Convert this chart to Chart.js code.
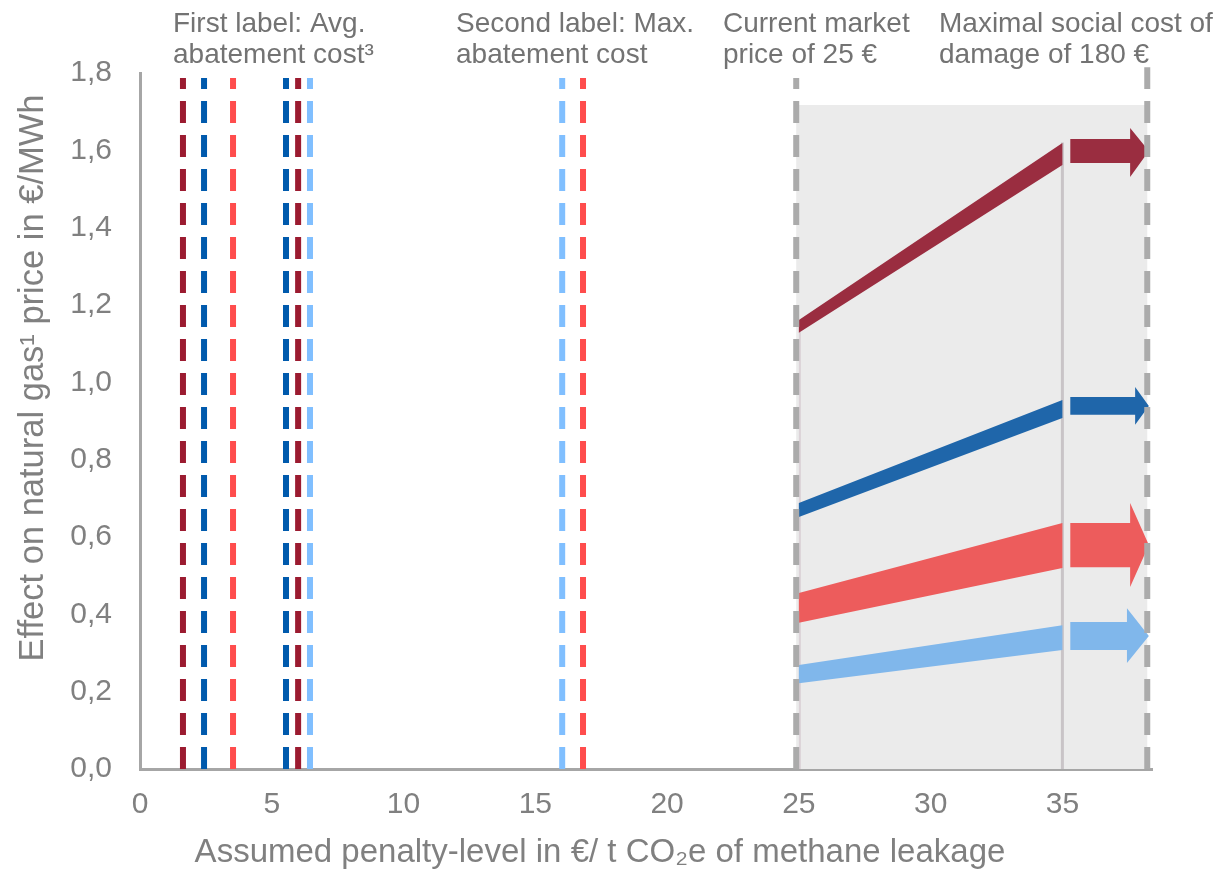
<!DOCTYPE html>
<html>
<head>
<meta charset="utf-8">
<script src="https://cdn.jsdelivr.net/npm/chart.js@4"></script>
<style>
  html, body { margin: 0; padding: 0; background: #fff; }
  #wrap { width: 1216px; height: 872px; }
</style>
</head>
<body>
<div id="wrap"><canvas id="chart" width="1216" height="872"></canvas></div>
<script>
// axis ticks
const xTickValues = [0, 5, 10, 15, 20, 25, 30, 35];
const yTickValues = [0, 0.2, 0.4, 0.6, 0.8, 1.0, 1.2, 1.4, 1.6, 1.8];
const yTickLabels = ["0,0", "0,2", "0,4", "0,6", "0,8", "1,0", "1,2", "1,4", "1,6", "1,8"];

// four series: dark red, blue, red, light blue
const seriesColors = ["#9b1b30", "#005aad", "#ff4d4d", "#80bfff"];
const bandColors = ["#9a2d40", "#1f66aa", "#ed5c5c", "#80b7eb"];

// abatement cost markers (penalty level, series)
const costLineX = [1.63, 2.43, 3.53, 5.54, 6.0, 6.45, 16.02, 16.81];
const costLineSeries = [0, 1, 2, 1, 0, 3, 3, 2];
const costLineTop = 1.787;

// market price / social cost range
const rangeStart = 24.9;
const rangeEnd = 38.22;
const rangeTop = 1.717;

// effect bands between 25 and 35 €
const bandX = [25, 35];
const bandLow = [[1.128, 1.562], [0.652, 0.908], [0.378, 0.520], [0.222, 0.308]];
const bandHigh = [[1.161, 1.619], [0.688, 0.954], [0.455, 0.636], [0.269, 0.372]];

// arrows beyond 35 €
const arrowStartX = 35.3;
const arrowTipX = 38.28;
const arrowHeadStart = [37.57, 37.76, 37.57, 37.45];
const arrowBodyLow = [1.567, 0.916, 0.522, 0.308];
const arrowBodyHigh = [1.629, 0.962, 0.636, 0.380];
const arrowHeadLow = [1.531, 0.890, 0.471, 0.274];
const arrowHeadHigh = [1.658, 0.988, 0.688, 0.416];

const headerTexts = [
  ["First label: Avg.", "abatement cost³"],
  ["Second label: Max.", "abatement cost"],
  ["Current market", "price of 25 €"],
  ["Maximal social cost of", "damage of 180 €"],
];
const xTitle = "Assumed penalty-level in €/ t CO₂e of methane leakage";
const yTitle = "Effect on natural gas¹ price in €/MWh";

const textGray = "#808080";
const axisGray = "#a6a6a6";
const fontFamily = "'Liberation Sans', Arial, sans-serif";

Chart.defaults.font.family = fontFamily;

function vline(x, top, color, width, dash, order, extra) {
  return Object.assign({
    data: [{ x, y: 0 }, { x, y: top }],
    borderColor: color,
    borderWidth: width,
    borderDash: dash,
    borderCapStyle: "butt",
    pointRadius: 0,
    fill: false,
    order,
  }, extra || {});
}

function polygon(points, color, order) {
  return {
    data: points.concat([points[0]]),
    borderWidth: 0,
    borderColor: "transparent",
    backgroundColor: color,
    pointRadius: 0,
    fill: "shape",
    order,
  };
}

const datasets = [];

// grey range background
datasets.push(polygon([
  { x: rangeStart, y: 0 }, { x: rangeEnd, y: 0 },
  { x: rangeEnd, y: rangeTop }, { x: rangeStart, y: rangeTop },
], "#ebebeb", 20));

// thin guides at 25 and 35
datasets.push(vline(35, 1.62, "#c9c4c7", 3, [], 15));
datasets.push(vline(25.04, 1.13, "#dcd3d8", 2, [], 15));

for (let i = 0; i < 4; i++) {
  datasets.push(polygon([
    { x: bandX[0], y: bandLow[i][0] }, { x: bandX[1], y: bandLow[i][1] },
    { x: bandX[1], y: bandHigh[i][1] }, { x: bandX[0], y: bandHigh[i][0] },
  ], bandColors[i], 10));

  const tipY = (arrowBodyLow[i] + arrowBodyHigh[i]) / 2;
  const hx = arrowHeadStart[i];
  datasets.push(polygon([
    { x: arrowStartX, y: arrowBodyLow[i] }, { x: hx, y: arrowBodyLow[i] },
    { x: hx, y: arrowHeadLow[i] }, { x: arrowTipX, y: tipY },
    { x: hx, y: arrowHeadHigh[i] }, { x: hx, y: arrowBodyHigh[i] },
    { x: arrowStartX, y: arrowBodyHigh[i] },
  ], bandColors[i], 10));
}

// grey dashed boundaries
datasets.push(vline(rangeStart, 1.787, "#ababab", 6, [22, 12], 5));
datasets.push(vline(rangeEnd, 1.815, "#ababab", 6, [22, 12], 5, { clip: false }));

// coloured dashed cost markers
costLineX.forEach((x, i) => {
  datasets.push(vline(x, costLineTop, seriesColors[costLineSeries[i]], 6, [22, 12], 1));
});

// header labels and axis titles, placed like the original layout
const textPlugin = {
  id: "textLabels",
  afterDraw(chart) {
    const ctx = chart.ctx;
    const xs = [173, 456, 723, 939];
    ctx.save();
    ctx.font = "28px " + fontFamily;
    ctx.fillStyle = "#737373";
    ctx.textAlign = "left";
    ctx.textBaseline = "alphabetic";
    headerTexts.forEach((lines, i) => {
      ctx.fillText(lines[0], xs[i], 32);
      ctx.fillText(lines[1], xs[i], 63);
    });

    ctx.fillStyle = textGray;
    ctx.font = "33px " + fontFamily;
    ctx.textAlign = "center";
    ctx.textBaseline = "middle";
    ctx.fillText(xTitle, 600, 853);

    ctx.font = "34.5px " + fontFamily;
    ctx.translate(33, 378);
    ctx.rotate(-Math.PI / 2);
    ctx.fillText(yTitle, 0, 0);
    ctx.restore();
  },
};

new Chart(document.getElementById("chart"), {
  type: "line",
  data: { datasets },
  plugins: [textPlugin],
  options: {
    responsive: false,
    animation: false,
    layout: { padding: { left: 0, top: 73, right: 64, bottom: 0 } },
    plugins: {
      legend: { display: false },
      tooltip: { enabled: false },
    },
    elements: { line: { tension: 0 }, point: { radius: 0 } },
    scales: {
      x: {
        type: "linear",
        min: 0,
        max: 38.4,
        afterFit(scale) { scale.height = 103; },
        afterBuildTicks(scale) { scale.ticks = xTickValues.map((v) => ({ value: v })); },
        grid: { display: false, drawTicks: false },
        border: { display: true, color: axisGray, width: 3 },
        ticks: {
          padding: 18,
          color: textGray,
          font: { size: 30 },
          maxRotation: 0,
          callback: (v) => String(v),
        },
      },
      y: {
        type: "linear",
        min: 0,
        max: 1.8,
        afterFit(scale) { scale.width = 140; },
        afterBuildTicks(scale) { scale.ticks = yTickValues.map((v) => ({ value: v })); },
        grid: { display: false, drawTicks: false },
        border: { display: true, color: axisGray, width: 3 },
        ticks: {
          padding: 28,
          color: textGray,
          font: { size: 30 },
          callback: (v, i) => yTickLabels[i],
        },
      },
    },
  },
});
</script>
</body>
</html>
